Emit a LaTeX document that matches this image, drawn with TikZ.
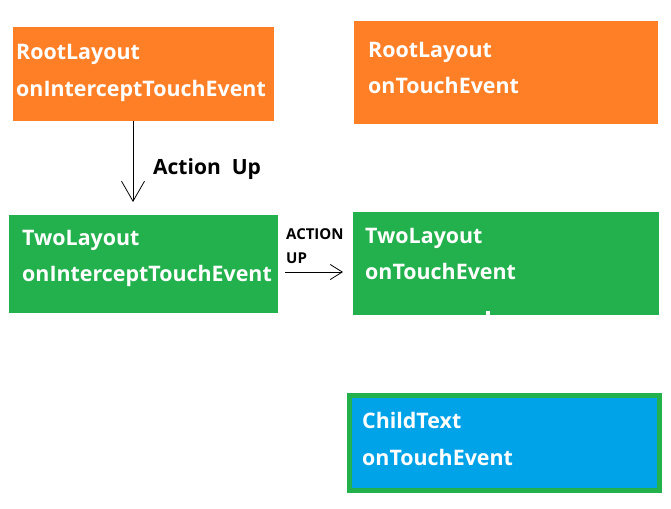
\documentclass[tikz,border=0pt]{standalone}
\usepackage{fontspec}
\setmainfont{Open Sans}
\usetikzlibrary{arrows.meta}
\definecolor{borange}{HTML}{FF7F27}
\definecolor{bgreen}{HTML}{22B14C}
\definecolor{bblue}{HTML}{00A2E8}
\begin{document}
\begin{tikzpicture}[x=1pt,y=-1pt,
  lbl/.style={anchor=base west,inner sep=0pt,text=white,font=\fontsize{21.4}{21.4}\selectfont\bfseries},
  blk/.style={anchor=base west,inner sep=0pt,text=black,font=\fontsize{21}{21}\selectfont\bfseries},
  small/.style={anchor=base west,inner sep=0pt,text=black,font=\fontsize{15}{15}\selectfont\bfseries},
  conn/.style={draw=black,line width=0.8pt}]
\useasboundingbox (0,0) rectangle (671,508);
\fill[white] (0,0) rectangle (671,508);
% boxes
\fill[borange] (13,27) rectangle (274,121);
\coordinate (rlb) at (133,121);
\fill[borange] (354,21) rectangle (658,124);
\fill[bgreen] (9,215) rectangle (278,313);
\coordinate (tlt) at (133,202);
\coordinate (tlr) at (285,272);
\fill[bgreen] (353,212) rectangle (659,315);
\coordinate (trl) at (343,272);
\fill[white] (486,311) rectangle (490,315);
\fill[bgreen] (347,393) rectangle (662,493);
\fill[bblue] (352,398) rectangle (657,488);
% texts
\node[lbl] (r1) at (16,60) {RootLayout};
\node[lbl] (r2) at (16,96) {onInterceptTouchEvent};
\node[lbl] (r3) at (368,58) {RootLayout};
\node[lbl] (r4) at (368,94) {onTouchEvent};
\node[lbl] (t1) at (22,245) {TwoLayout};
\node[lbl] (t2) at (22,281) {onInterceptTouchEvent};
\node[lbl] (t3) at (365,243) {TwoLayout};
\node[lbl] (t4) at (365,279) {onTouchEvent};
\node[lbl] (c1) at (362,428) {ChildText};
\node[lbl] (c2) at (362,465) {onTouchEvent};
\node[blk] (a1) at (153,174) {Action\hspace{11pt}Up};
\node[small] (a2) at (286,239) {ACTION};
\node[small] (a3) at (286,263) {UP};
% arrows
\draw[conn,-{Straight Barb[length=20pt,width=23pt]}] (rlb) -- (tlt);
\draw[conn,-{Straight Barb[length=12pt,width=15pt]}] (tlr) -- (trl);
\end{tikzpicture}
\end{document}
